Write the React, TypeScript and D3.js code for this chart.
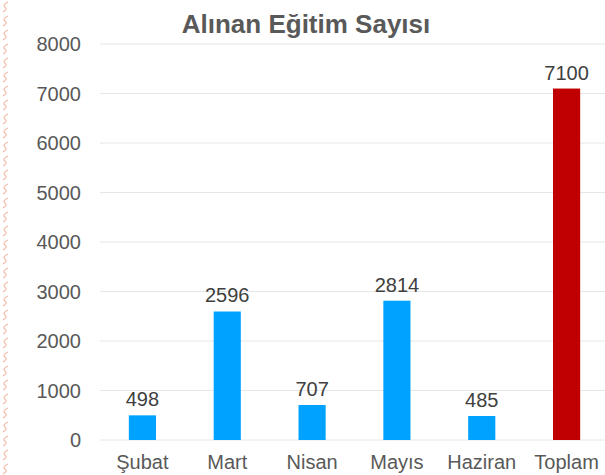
import React from 'react';
import * as d3 from 'd3';

const categories = ['Şubat', 'Mart', 'Nisan', 'Mayıs', 'Haziran', 'Toplam'];
const values = [498, 2596, 707, 2814, 485, 7100];
const yTicks = [0, 1000, 2000, 3000, 4000, 5000, 6000, 7000, 8000];
const title = 'Alınan Eğitim Sayısı';

const W = 605;
const H = 475;
const font = '"Liberation Sans", Arial, sans-serif';

const App = () => {
  const x = d3.scaleBand<string>().domain(categories).range([100, 609]).paddingInner(0.68).paddingOuter(0.34);
  const y = d3.scaleLinear().domain([0, 8000]).range([440, 44]);

  return (
    <div style={{ position: 'fixed', left: 0, top: 0 }}>
      <svg width={W} height={H} style={{ display: 'block', background: '#fff' }}>
        <defs>
          <pattern id="wm" x="0" y="0" width="12" height="14" patternUnits="userSpaceOnUse">
            <path d="M8,2 Q2,5 5,7 Q8,9 3,12" fill="none" stroke="#f1bba8" strokeWidth="1.2" />
          </pattern>
        </defs>
        <rect x={0} y={0} width={11} height={H} fill="url(#wm)" />
        <text x={306} y={33} textAnchor="middle" fontFamily={font} fontWeight="bold" fontSize={26} fill="#595959">
          {title}
        </text>
        {yTicks.map(t => (
          <g key={t}>
            <line x1={100} x2={W} y1={y(t)} y2={y(t)} stroke="#e6e6e6" strokeWidth={1} />
            <text x={81} y={y(t)} dy="0.35em" textAnchor="end" fontFamily={font} fontSize={20} fill="#595959">
              {t}
            </text>
          </g>
        ))}
        {categories.map((c, i) => (
          <g key={c}>
            <rect
              x={x(c)}
              y={y(values[i])}
              width={x.bandwidth()}
              height={y(0) - y(values[i])}
              fill={c === 'Toplam' ? '#c00000' : '#00a2ff'}
            />
            <text
              x={(x(c) as number) + x.bandwidth() / 2}
              y={y(values[i]) - 9}
              textAnchor="middle"
              fontFamily={font}
              fontSize={20}
              fill="#404040"
            >
              {values[i]}
            </text>
            <text
              x={(x(c) as number) + x.bandwidth() / 2}
              y={469}
              textAnchor="middle"
              fontFamily={font}
              fontSize={20}
              fill="#595959"
            >
              {c}
            </text>
          </g>
        ))}
      </svg>
    </div>
  );
};

export default App;
